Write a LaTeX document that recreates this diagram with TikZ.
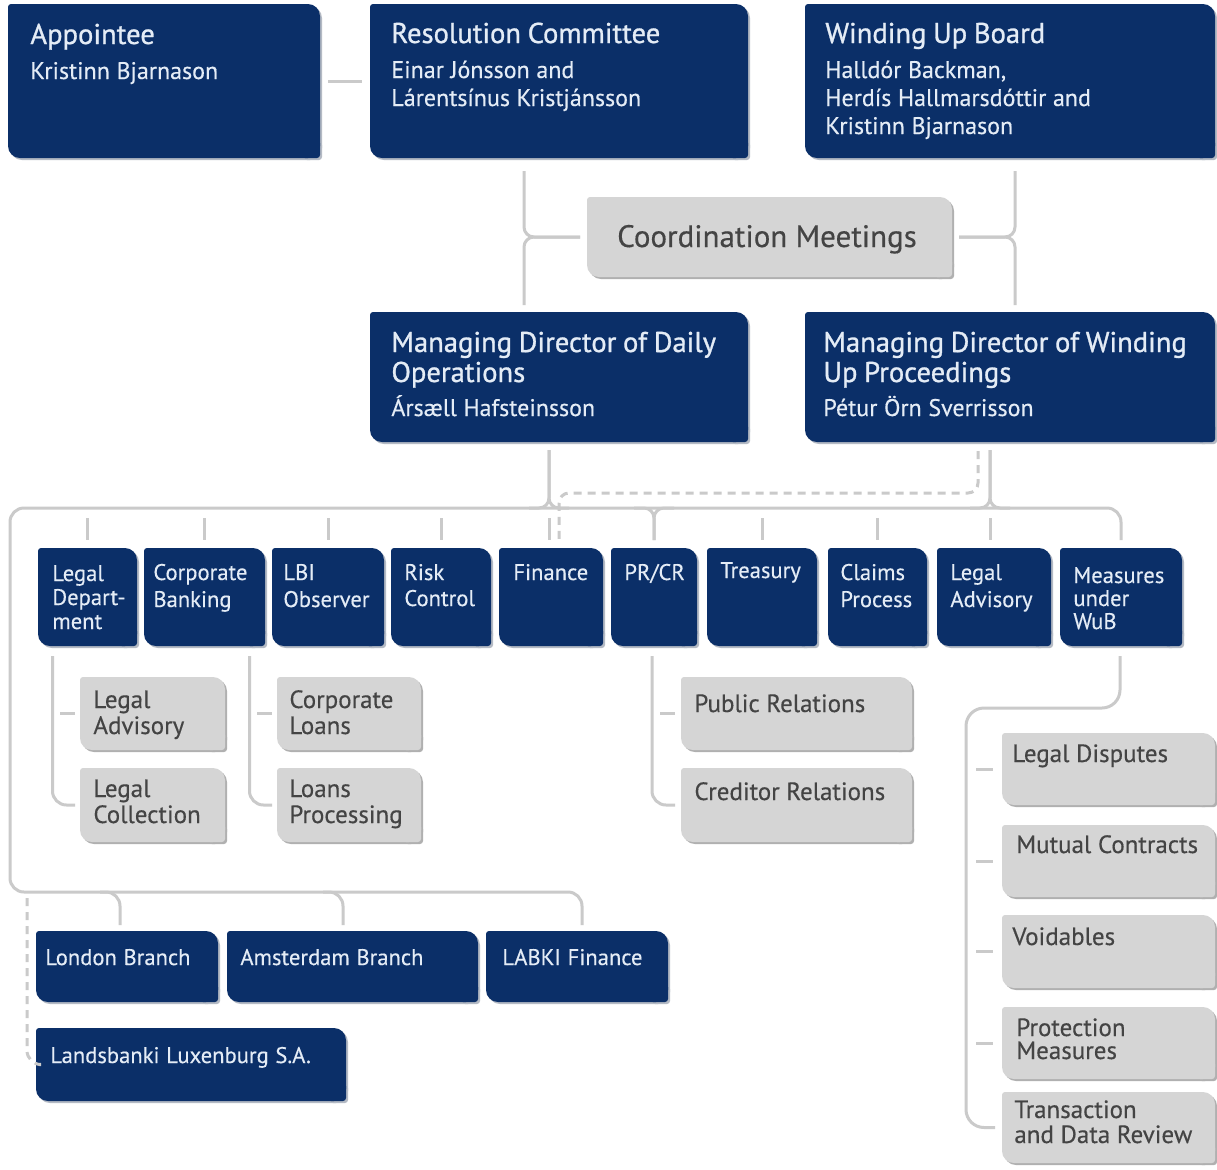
\documentclass[tikz,border=0pt]{standalone}
\usepackage{fontspec}
\setmainfont{PT Sans}[FakeBold=0.35]
\newfontfamily\ttlfont{PT Sans}[FakeBold=1.0]
\usetikzlibrary{backgrounds,fit,calc}
\definecolor{navy}{HTML}{0B2F68}
\definecolor{boxgray}{HTML}{D5D5D5}
\definecolor{txtgray}{HTML}{444444}
\definecolor{bluetxt}{HTML}{E4ECF6}
\definecolor{linegray}{HTML}{CACACA}
\definecolor{navyshade}{HTML}{B4BAC4}
\definecolor{grayshade}{HTML}{B0B0B0}
\newcommand\bshape[3]{%
  \fill[#2, rounded corners=#3] (#1.north west) rectangle (#1.south east);
  \fill[#2, rounded corners=1.5pt] (#1.north west) rectangle ([shift={(1.5*#3,-1.5*#3)}]#1.north west);
  \fill[#2, rounded corners=1.5pt] (#1.south east) rectangle ([shift={(-1.5*#3,1.5*#3)}]#1.south east);
}
\newcommand\bshadow[3]{%
  \fill[#2, rounded corners=#3] ([shift={(1pt,-1pt)}]#1.north west) rectangle ([shift={(1pt,-1pt)}]#1.south east);
  \fill[#2, rounded corners=1.5pt] ([shift={(1pt-1.5*#3,-1pt+1.5*#3)}]#1.south east) rectangle ([shift={(1pt,-1pt)}]#1.south east);
}
\newcommand\ttl[1]{{\ttlfont\fontsize{14.3pt}{15pt}\selectfont #1\par}}
\newcommand\nms[1]{{\fontsize{12pt}{14pt}\selectfont #1\par}}
\newcommand\sbt[2][13.5pt]{{\fontsize{11.3pt}{#1}\selectfont #2\par}}
\newcommand\gbt[2][13pt]{{\fontsize{12.5pt}{#1}\selectfont #2\par}}
\begin{document}
\begin{tikzpicture}[x=0.5pt,y=-0.5pt,
  boxn/.style={inner sep=0pt, outer sep=0pt},
  conn/.style={draw=linegray, line width=1.5pt},
  dconn/.style={conn, dash pattern=on 4pt off 3pt},
  btxt/.style={anchor=base west, inner sep=0pt, text width=250pt, align=left, text=bluetxt},
  gtxt/.style={btxt, text=txtgray},
]
\useasboundingbox (0,0) rectangle (1217,1169);
% navy boxes
\node[boxn, fit={(8,4) (320,158)}] (app) {};
\node[boxn, fit={(370,4) (748,158)}] (res) {};
\node[boxn, fit={(805,4) (1215,158)}] (wub) {};
\node[boxn, fit={(370,312) (748,442)}] (mdd) {};
\node[boxn, fit={(805,312) (1215,442)}] (mdw) {};
\node[boxn, fit={(38,548) (137,646)}] (ld) {};
\node[boxn, fit={(144,548) (265,646)}] (cb) {};
\node[boxn, fit={(272,548) (384,646)}] (lbi) {};
\node[boxn, fit={(391,548) (491,646)}] (risk) {};
\node[boxn, fit={(499,548) (603,646)}] (fin) {};
\node[boxn, fit={(611,548) (697,646)}] (pr) {};
\node[boxn, fit={(707,548) (817,646)}] (tre) {};
\node[boxn, fit={(828,548) (927,646)}] (clm) {};
\node[boxn, fit={(937,548) (1051,646)}] (lad) {};
\node[boxn, fit={(1060,548) (1182,646)}] (mea) {};
\node[boxn, fit={(36,931) (218,1002)}] (lon) {};
\node[boxn, fit={(227,931) (478,1002)}] (ams) {};
\node[boxn, fit={(486,931) (668,1002)}] (lab) {};
\node[boxn, fit={(36,1028) (346,1101)}] (lux) {};
% gray boxes
\node[boxn, fit={(587,197) (952,277)}] (coord) {};
\node[boxn, fit={(80,677) (225,750)}] (sla) {};
\node[boxn, fit={(80,768) (225,842)}] (slc) {};
\node[boxn, fit={(277,677) (421,750)}] (scl) {};
\node[boxn, fit={(277,768) (421,842)}] (slp) {};
\node[boxn, fit={(681,677) (912,750)}] (spr) {};
\node[boxn, fit={(681,768) (912,842)}] (scr) {};
\node[boxn, fit={(1002,733) (1215,805)}] (dis) {};
\node[boxn, fit={(1002,825) (1215,897)}] (mut) {};
\node[boxn, fit={(1002,915) (1215,988)}] (voi) {};
\node[boxn, fit={(1002,1007) (1215,1079)}] (pro) {};
\node[boxn, fit={(1002,1092) (1215,1163)}] (tra) {};

% connectors
\draw[conn] ($(app.east)+(8,0)$) -- ($(res.west)+(-8,0)$);
\coordinate (jl) at (524,237);
\coordinate (jr) at (1015,237);
\draw[conn, rounded corners=5pt] ($(jl |- res.south)+(0,13)$) -- (jl) -- ($(coord.west)+(-7,0)$);
\draw[conn, rounded corners=5pt] ($(jl |- mdd.north)+(0,-7)$) -- (jl) -- ($(coord.west)+(-7,0)$);
\draw[conn, rounded corners=5pt] ($(jr |- wub.south)+(0,13)$) -- (jr) -- ($(coord.east)+(7,0)$);
\draw[conn, rounded corners=5pt] ($(jr |- mdw.north)+(0,-7)$) -- (jr) -- ($(coord.east)+(7,0)$);

\coordinate (hl) at (10,508);
\coordinate (hr) at (mea.north |- hl);
\coordinate (bl) at (10,892);
\coordinate (bb) at (582,892);
\draw[conn, rounded corners=7pt] ($(mea.north)+(0,-8)$) -- (hr) -- (hl) -- (bl) -- (bb) -- ($(bb |- lab.north)+(0,-6)$);

\coordinate (j1) at (549,508);
\coordinate (j2) at (pr.north |- hl);
\coordinate (j3) at (990,508);
\draw[conn, rounded corners=5pt] ($(j1 |- mdd.south)+(0,8)$) -- (j1) -- ++(-20,0);
\draw[conn, rounded corners=5pt] ($(j1 |- mdd.south)+(0,8)$) -- (j1) -- ++(20,0);
\draw[conn, rounded corners=5pt] ($(j3 |- mdw.south)+(0,8)$) -- (j3) -- ++(-20,0);
\draw[conn, rounded corners=5pt] ($(j3 |- mdw.south)+(0,8)$) -- (j3) -- ++(20,0);
\draw[conn, rounded corners=5pt] ($(j2)+(-20,0)$) -- (j2) -- ($(pr.north)+(0,-8)$);
\draw[conn, rounded corners=5pt] ($(j2)+(20,0)$) -- (j2) -- ($(pr.north)+(0,-8)$);

\foreach \n in {ld,cb,lbi,risk,tre,clm} \draw[conn] ($(\n.north)+(0,-30)$) -- ($(\n.north)+(0,-8)$);
\draw[conn] ($(j3 |- lad.north)+(0,-30)$) -- ($(j3 |- lad.north)+(0,-8)$);
\draw[conn] ($(j1 |- fin.north)+(0,-30)$) -- ($(j1 |- fin.north)+(0,-8)$);
\coordinate (d1) at (978,493);
\coordinate (d2) at (559,493);
\draw[dconn, rounded corners=5pt] ($(d1 |- mdw.south)+(0,9)$) -- (d1) -- (d2) -- ($(d2 |- fin.north)+(0,-8)$);

\draw[conn, rounded corners=7pt] ($(ld.south)+(-35,10)$) |- ($(slc.west)+(-5,0)$);
\draw[conn] ($(sla.west)+(-20,0)$) -- ($(sla.west)+(-5,0)$);
\draw[conn, rounded corners=7pt] ($(cb.south)+(45,10)$) |- ($(slp.west)+(-5,0)$);
\draw[conn] ($(scl.west)+(-20,0)$) -- ($(scl.west)+(-5,0)$);
\draw[conn, rounded corners=7pt] ($(pr.south)+(-2,10)$) |- ($(scr.west)+(-6,0)$);
\draw[conn] ($(spr.west)+(-21,0)$) -- ($(spr.west)+(-6,0)$);

\coordinate (mc) at (966,708);
\draw[conn, rounded corners=9pt] ($(mea.south)+(-1,10)$) |- (mc) |- ($(tra.west)+(-7,0)$);
\foreach \n in {dis,mut,voi,pro} \draw[conn] ($(\n.west)+(-26,0)$) -- ($(\n.west)+(-9,0)$);

\coordinate (b1) at (120,892);
\coordinate (b2) at (343,892);
\draw[conn, rounded corners=7pt] ($(b1)+(-20,0)$) -- (b1) -- ($(b1 |- lon.north)+(0,-6)$);
\draw[conn, rounded corners=7pt] ($(b2)+(-20,0)$) -- (b2) -- ($(b2 |- ams.north)+(0,-6)$);
\coordinate (dl) at (27,898);
\draw[dconn, rounded corners=7pt] (dl) |- ($(lux.west)+(-2,0)$);

% texts
\node[btxt] (appT) at (30,44) {\ttl{Appointee}\vspace{3.5pt}\nms{Kristinn Bjarnason}};
\node[btxt] (resT) at (391,43) {\ttl{Resolution Committee}\vspace{3.5pt}\nms{Einar Jónsson and\\Lárentsínus Kristjánsson}};
\node[btxt] (wubT) at (825,43) {\ttl{Winding Up Board}\vspace{3.5pt}\nms{Halldór Backman,\\Herdís Hallmarsdóttir and\\Kristinn Bjarnason}};
\node[btxt] (mddT) at (391,352) {\ttl{Managing Director of Daily\\Operations}\vspace{3pt}\nms{Ársæll Hafsteinsson}};
\node[btxt] (mdwT) at (823,352) {\ttl{Managing Director of Winding\\Up Proceedings}\vspace{3pt}\nms{Pétur Örn Sverrisson}};
\node[anchor=base, inner sep=0pt, text=txtgray, font=\fontsize{15.5pt}{16pt}\selectfont] (coordT) at (767,247) {Coordination Meetings};

\node[btxt] (ldT) at (52,581) {\sbt[12pt]{Legal\\Depart-\\ment}};
\node[btxt] (cbT) at (153,580) {\sbt{Corporate\\Banking}};
\node[btxt] (lbiT) at (283,580) {\sbt{LBI\\Observer}};
\node[btxt] (riskT) at (404,580) {\sbt[13pt]{Risk\\Control}};
\node[btxt] (finT) at (513,580) {\sbt{Finance}};
\node[btxt] (prT) at (624,580) {\sbt{PR/CR}};
\node[btxt] (treT) at (720,578) {\sbt{Treasury}};
\node[btxt] (clmT) at (840,580) {\sbt{Claims\\Process}};
\node[btxt] (ladT) at (950,580) {\sbt{Legal\\Advisory}};
\node[btxt] (meaT) at (1073,583) {\sbt[11.5pt]{Measures\\under\\WuB}};

\node[gtxt] (slaT) at (93,708) {\gbt{Legal\\Advisory}};
\node[gtxt] (slcT) at (93,797) {\gbt{Legal\\Collection}};
\node[gtxt] (sclT) at (289,708) {\gbt{Corporate\\Loans}};
\node[gtxt] (slpT) at (289,797) {\gbt{Loans\\Processing}};
\node[gtxt] (sprT) at (694,712) {\gbt{Public Relations}};
\node[gtxt] (scrT) at (694,800) {\gbt{Creditor Relations}};
\node[gtxt] (disT) at (1012,762) {\gbt{Legal Disputes}};
\node[gtxt] (mutT) at (1016,853) {\gbt{Mutual Contracts}};
\node[gtxt] (voiT) at (1012,945) {\gbt{Voidables}};
\node[gtxt] (proT) at (1016,1036) {\gbt[11.5pt]{Protection\\Measures}};
\node[gtxt] (traT) at (1014,1118) {\gbt[12.5pt]{Transaction\\and Data Review}};

\node[btxt] (lonT) at (45,965) {\sbt{London Branch}};
\node[btxt] (amsT) at (240,965) {\sbt{Amsterdam Branch}};
\node[btxt] (labT) at (502,965) {\sbt{LABKI Finance}};
\node[btxt] (luxT) at (50,1063) {\sbt{Landsbanki Luxenburg S.A.}};

\begin{scope}[on background layer]
\fill[white] (0,0) rectangle (1217,1169);
\foreach \n in {app,res,wub,mdd,mdw,ld,cb,lbi,risk,fin,pr,tre,clm,lad,mea,lon,ams,lab,lux} {\bshadow{\n}{navyshade}{6pt}\bshape{\n}{navy}{6pt}}
\foreach \n in {coord,sla,slc,scl,slp,spr,scr,dis,mut,voi,pro,tra} {\bshadow{\n}{grayshade}{6pt}\bshape{\n}{boxgray}{6pt}}
\end{scope}
\end{tikzpicture}
\end{document}
